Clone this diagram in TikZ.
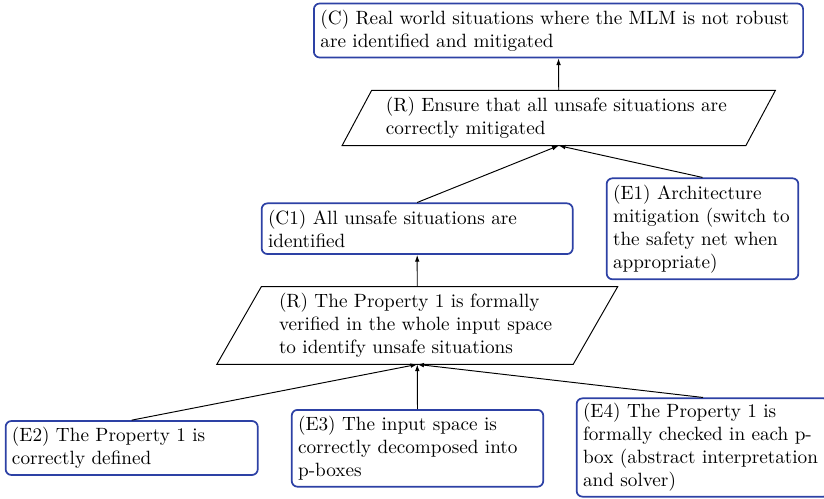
\documentclass[tikz,border=0pt]{standalone}
\usetikzlibrary{arrows.meta}
\definecolor{gblue}{RGB}{45,65,165}
\begin{document}
\begin{tikzpicture}[x=0.52083pt,y=-0.52083pt,
  ebox/.style={draw=gblue, line width=0.9pt, rounded corners=3pt, align=left,
    inner xsep=3.3pt, inner ysep=0pt, font=\normalsize},
  rbox/.style={align=left, inner ysep=0pt},
  para/.style={draw, line width=0.5pt},
  arr/.style={draw, line width=0.5pt, -{Latex[length=3.5pt,width=2.4pt]}}]
\clip (0,0) rectangle (824,499);
\useasboundingbox (0,0) rectangle (824,499);

\node[ebox, text width=248pt, inner xsep=3.4pt, minimum height=28.1pt] (C) at (558.5,30.5)
  {(C) Real world situations where the MLM is not robust\\are identified and mitigated};

\node[rbox, text width=180pt, inner xsep=14.95pt, minimum height=28.4pt] (R1) at (558.75,118)
  {(R) Ensure that all unsafe situations are\\correctly mitigated};
\draw[para] ([xshift=7.7pt]R1.north west) -- ([xshift=7.7pt]R1.north east)
  -- ([xshift=-7.7pt]R1.south east) -- ([xshift=-7.7pt]R1.south west) -- cycle;

\node[ebox, text width=155.4pt, minimum height=26.4pt] (C1) at (417.2,228.7)
  {(C1) All unsafe situations are\\identified};

\node[ebox, text width=93.2pt, minimum height=52.6pt] (E1) at (702.5,228.8)
  {(E1) Architecture\\mitigation (switch to\\the safety net when\\appropriate)};

\node[rbox, text width=144pt, inner xsep=20.6pt, minimum height=40.1pt] (R2) at (417.25,325.5)
  {(R) The Property 1 is formally\\verified in the whole input space\\to identify unsafe situations};
\draw[para] ([xshift=11.6pt]R2.north west) -- ([xshift=11.6pt]R2.north east)
  -- ([xshift=-11.6pt]R2.south east) -- ([xshift=-11.6pt]R2.south west) -- cycle;

\node[ebox, text width=124.7pt, minimum height=28.1pt] (E2) at (131.7,448)
  {(E2) The Property 1 is\\correctly defined};
\node[ebox, text width=124.4pt, minimum height=40pt] (E3) at (417.5,448.3)
  {(E3) The input space is\\correctly decomposed into\\p-boxes};
\node[ebox, text width=125pt, minimum height=51.2pt] (E4) at (703,447.5)
  {(E4) The Property 1 is\\formally checked in each p-\\box (abstract interpretation\\and solver)};

\draw[arr] (R1.north) -- (C.south);
\draw[arr] (C1.north) -- (R1.south);
\draw[arr] (E1.north) -- (R1.south);
\draw[arr] (R2.north) -- (C1.south);
\draw[arr] (E2.north) -- (R2.south);
\draw[arr] (E3.north) -- (R2.south);
\draw[arr] (E4.north) -- (R2.south);
\end{tikzpicture}
\end{document}
